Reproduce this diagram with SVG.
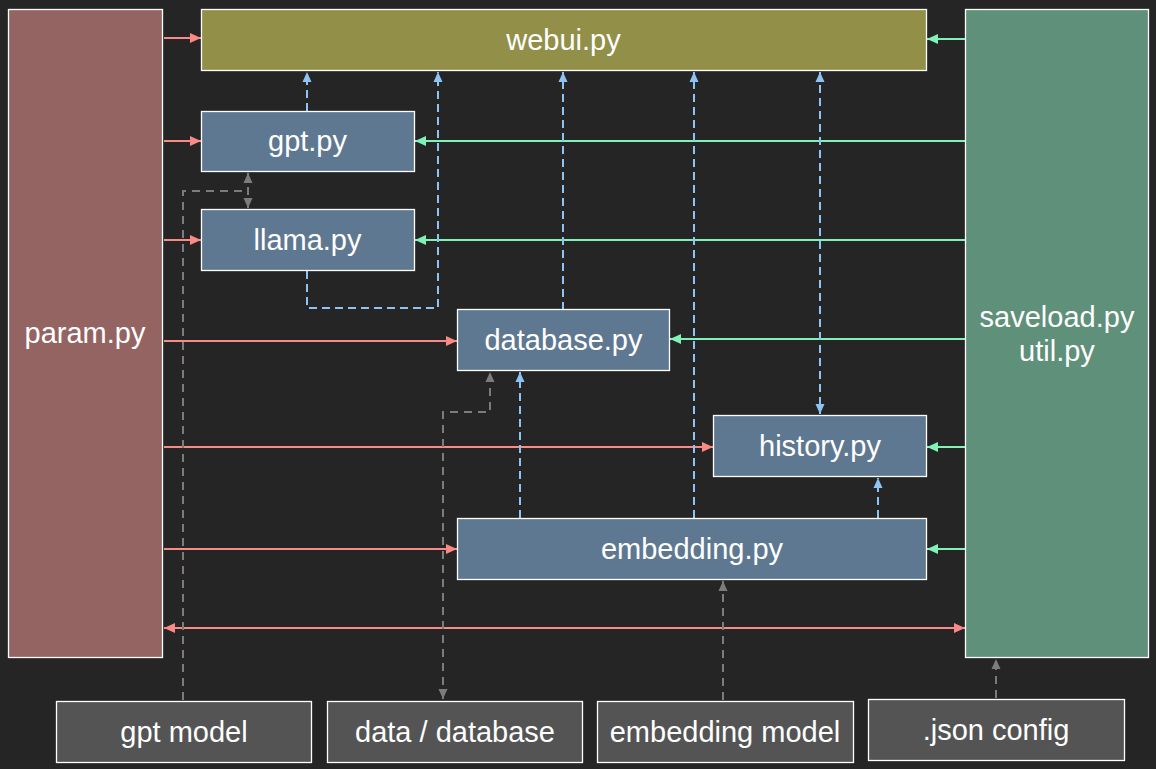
<svg xmlns="http://www.w3.org/2000/svg" width="1156" height="769" viewBox="0 0 1156 769">
<defs>
<style>
.box{stroke:#ffffff;stroke-width:1.3}
.mod{fill:#5f7891}
.ext{fill:#545454}
.t{font-family:"Liberation Sans",Arial,sans-serif;font-size:29px;fill:#ffffff;text-anchor:middle}
.red{stroke:#f98a86;stroke-width:2;fill:none}
.grn{stroke:#80f2b6;stroke-width:2;fill:none}
.blu{stroke:#8ec4f4;stroke-width:2;fill:none;stroke-dasharray:8 5}
.gry{stroke:#7c7c7c;stroke-width:2;fill:none;stroke-dasharray:8 6}
</style>
<marker id="ar" markerUnits="userSpaceOnUse" markerWidth="11" markerHeight="11" refX="11" refY="5.5" orient="auto-start-reverse"><path d="M0,0.5 L11,5.5 L0,10.5 z" fill="#f98a86"/></marker>
<marker id="ag" markerUnits="userSpaceOnUse" markerWidth="11" markerHeight="11" refX="11" refY="5.5" orient="auto-start-reverse"><path d="M0,0.5 L11,5.5 L0,10.5 z" fill="#80f2b6"/></marker>
<marker id="ab" markerUnits="userSpaceOnUse" markerWidth="10" markerHeight="10" refX="10" refY="5" orient="auto-start-reverse"><path d="M0,0.5 L10,5 L0,9.5 z" fill="#8ec4f4"/></marker>
<marker id="ay" markerUnits="userSpaceOnUse" markerWidth="10" markerHeight="10" refX="10" refY="5" orient="auto-start-reverse"><path d="M0,0.5 L10,5 L0,9.5 z" fill="#7c7c7c"/></marker>
</defs>
<rect x="0" y="0" width="1156" height="769" fill="#252525"/>

<g id="connectors">
<!-- param.py outputs -->
<line class="red" x1="164" y1="38" x2="201" y2="38" marker-end="url(#ar)"/>
<line class="red" x1="164" y1="141" x2="201" y2="141" marker-end="url(#ar)"/>
<line class="red" x1="164" y1="240" x2="201" y2="240" marker-end="url(#ar)"/>
<line class="red" x1="164" y1="341" x2="457" y2="341" marker-end="url(#ar)"/>
<line class="red" x1="164" y1="447" x2="713" y2="447" marker-end="url(#ar)"/>
<line class="red" x1="164" y1="549" x2="457" y2="549" marker-end="url(#ar)"/>
<line class="red" x1="164" y1="628" x2="965" y2="628" marker-start="url(#ar)" marker-end="url(#ar)"/>
<!-- saveload outputs -->
<line class="grn" x1="965" y1="39" x2="927" y2="39" marker-end="url(#ag)"/>
<line class="grn" x1="965" y1="141" x2="415" y2="141" marker-end="url(#ag)"/>
<line class="grn" x1="965" y1="240" x2="415" y2="240" marker-end="url(#ag)"/>
<line class="grn" x1="965" y1="339" x2="670" y2="339" marker-end="url(#ag)"/>
<line class="grn" x1="965" y1="447" x2="927" y2="447" marker-end="url(#ag)"/>
<line class="grn" x1="965" y1="549" x2="927" y2="549" marker-end="url(#ag)"/>
<!-- blue dashed -->
<line class="blu" x1="307" y1="111" x2="307" y2="72" marker-end="url(#ab)"/>
<polyline class="blu" points="307,271 307,308 438,308 438,72" marker-end="url(#ab)"/>
<line class="blu" x1="563" y1="310" x2="563" y2="72" marker-end="url(#ab)"/>
<line class="blu" x1="694" y1="518" x2="694" y2="72" marker-end="url(#ab)"/>
<line class="blu" x1="820" y1="72" x2="820" y2="414" marker-start="url(#ab)" marker-end="url(#ab)"/>
<line class="blu" x1="520" y1="518" x2="520" y2="372" marker-end="url(#ab)"/>
<line class="blu" x1="878" y1="518" x2="878" y2="478" marker-end="url(#ab)"/>
<!-- gray dashed -->
<line class="gry" x1="248" y1="173" x2="248" y2="208" marker-start="url(#ay)" marker-end="url(#ay)"/>
<polyline class="gry" points="183,700 183,191 243,191"/>
<polyline class="gry" points="443,699 443,412 490,412 490,372" marker-start="url(#ay)" marker-end="url(#ay)"/>
<line class="gry" x1="723" y1="700" x2="723" y2="581" marker-end="url(#ay)"/>
<line class="gry" x1="996" y1="698" x2="996" y2="659" marker-end="url(#ay)"/>
</g>

<g id="param">
<rect class="box" x="8.5" y="9.5" width="154" height="648" fill="#946462"/>
<text class="t" x="85" y="343">param.py</text>
</g>
<g id="webui">
<rect class="box" x="201.5" y="9.5" width="725" height="61" fill="#918f48"/>
<text class="t" x="563.5" y="50">webui.py</text>
</g>
<g id="saveload">
<rect class="box" x="965.5" y="9.5" width="183" height="648" fill="#5f9079"/>
<text class="t" x="1057" y="327">saveload.py</text>
<text class="t" x="1057" y="361">util.py</text>
</g>
<g id="gpt">
<rect class="box mod" x="201.5" y="111.5" width="213" height="60"/>
<text class="t" x="307.5" y="151">gpt.py</text>
</g>
<g id="llama">
<rect class="box mod" x="201.5" y="209.5" width="213" height="61"/>
<text class="t" x="307.5" y="250">llama.py</text>
</g>
<g id="database">
<rect class="box mod" x="457.5" y="309.5" width="212" height="61"/>
<text class="t" x="563.5" y="350">database.py</text>
</g>
<g id="history">
<rect class="box mod" x="713.5" y="415.5" width="213" height="61"/>
<text class="t" x="820" y="456">history.py</text>
</g>
<g id="embedding">
<rect class="box mod" x="457.5" y="518.5" width="469" height="61"/>
<text class="t" x="692" y="559">embedding.py</text>
</g>
<g id="gpt-model">
<rect class="box ext" x="56.5" y="701.5" width="255" height="61"/>
<text class="t" x="184" y="742">gpt model</text>
</g>
<g id="data-database">
<rect class="box ext" x="327.5" y="701.5" width="255" height="61"/>
<text class="t" x="455" y="742">data / database</text>
</g>
<g id="embedding-model">
<rect class="box ext" x="597.5" y="701.5" width="256" height="61"/>
<text class="t" x="725" y="742">embedding model</text>
</g>
<g id="json-config">
<rect class="box ext" x="868.5" y="699.5" width="256" height="61"/>
<text class="t" x="996" y="740">.json config</text>
</g>
</svg>
